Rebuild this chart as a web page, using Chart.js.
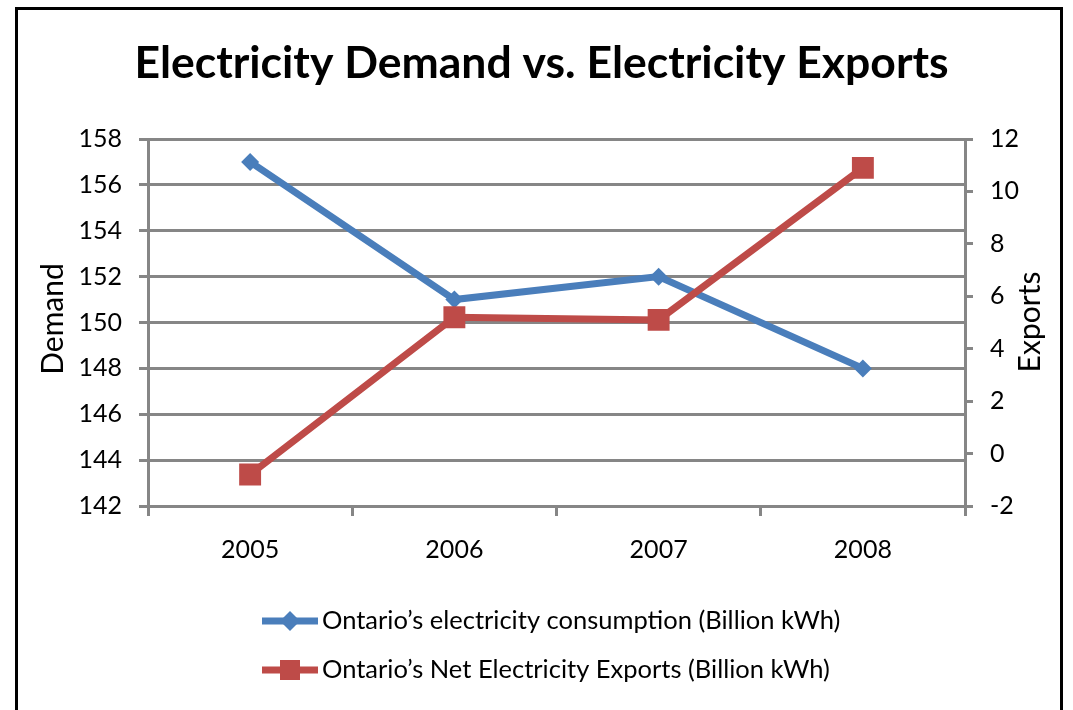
<!DOCTYPE html>
<html><head><meta charset="utf-8">
<script src="https://cdn.jsdelivr.net/npm/chart.js@4"></script>
<style>html,body{margin:0;padding:0;background:#fff;}#wrap{width:1073px;height:710px;}</style>
</head><body><div id="wrap"><canvas id="c" width="1073" height="710"></canvas></div>
<script>
const years = ['2005', '2006', '2007', '2008'];
const consumption = [157, 151, 152, 148];
const netExports = [-0.8, 5.2, 5.1, 10.9];
const demandAxis = [142, 158, 2];
const exportsAxis = [-2, 12, 2];
const seriesNames = ['Ontario\u2019s electricity consumption (Billion kWh)', 'Ontario\u2019s Net Electricity Exports (Billion kWh)'];
const chartTitle = 'Electricity Demand vs. Electricity Exports';
const axisTitles = ['Demand', 'Exports'];

const FONT = 'Lato';
const GRID = '#868686';
const BLUE = '#4A7EBB';
const RED = '#BE4B48';

const decor = {
  id: 'decor',
  beforeDraw(chart) {
    const ctx = chart.ctx;
    ctx.save();
    ctx.fillStyle = '#fff';
    ctx.fillRect(0, 0, chart.width, chart.height);
    ctx.restore();
  },
  afterDraw(chart) {
    const ctx = chart.ctx;
    ctx.save();
    // outer border
    ctx.strokeStyle = '#000';
    ctx.lineWidth = 3;
    ctx.strokeRect(16.5, 8.5, 1045, 800);
    // axis titles (both read bottom-to-top)
    ctx.fillStyle = '#000';
    ctx.font = '30px ' + FONT;
    ctx.textAlign = 'center';
    ctx.textBaseline = 'middle';
    [[53, 319, axisTitles[0]], [1030, 322, axisTitles[1]]].forEach(([x, y, t]) => {
      ctx.save();
      ctx.translate(x, y);
      ctx.rotate(-Math.PI / 2);
      ctx.fillText(t, 0, 0);
      ctx.restore();
    });
    // legend
    const rows = [621, 670];
    chart.data.datasets.forEach((ds, i) => {
      const y = rows[i];
      ctx.strokeStyle = ds.borderColor;
      ctx.lineWidth = 7;
      ctx.beginPath();
      ctx.moveTo(262, y);
      ctx.lineTo(318, y);
      ctx.stroke();
      ctx.fillStyle = ds.backgroundColor;
      ctx.beginPath();
      if (ds.pointStyle === 'rectRot') {
        const r = 10;
        ctx.moveTo(290 - r, y); ctx.lineTo(290, y - r); ctx.lineTo(290 + r, y); ctx.lineTo(290, y + r);
        ctx.closePath();
      } else {
        ctx.rect(290 - 10, y - 10, 20, 20);
      }
      ctx.fill();
      ctx.fillStyle = '#000';
      ctx.font = '25.5px ' + FONT;
      ctx.textAlign = 'left';
      ctx.textBaseline = 'middle';
      ctx.fillText(ds.label, 322, y);
    });
    ctx.restore();
  }
};

new Chart(document.getElementById('c'), {
  type: 'line',
  data: {
    labels: years,
    datasets: [
      { label: seriesNames[0], data: consumption, yAxisID: 'y', order: 1,
        borderColor: BLUE, backgroundColor: BLUE, borderWidth: 7,
        pointStyle: 'rectRot', pointRadius: 9, pointHoverRadius: 9, pointBorderWidth: 0, tension: 0 },
      { label: seriesNames[1], data: netExports, yAxisID: 'y1', order: 0,
        borderColor: RED, backgroundColor: RED, borderWidth: 7,
        pointStyle: 'rect', pointRadius: 15.5, pointHoverRadius: 15.5, pointBorderWidth: 0, tension: 0 }
    ]
  },
  options: {
    responsive: false,
    animation: false,
    devicePixelRatio: 1,
    layout: { padding: { left: 10, right: 0, top: 0, bottom: 0 } },
    plugins: {
      legend: { display: false },
      tooltip: { enabled: false },
      title: {
        display: true, text: chartTitle, color: '#000',
        font: { family: FONT, size: 44.5, weight: 'bold', lineHeight: 1.2 },
        padding: { top: 37, bottom: 48.6 }
      }
    },
    scales: {
      x: {
        type: 'category', offset: true,
        grid: { display: true, drawOnChartArea: false, drawTicks: true, tickLength: 10, color: GRID, lineWidth: 3, offset: true },
        border: { display: true, color: GRID, width: 3 },
        ticks: { color: '#000', font: { family: FONT, size: 25 }, padding: 19 },
        afterFit(s) { s.height = 204; }
      },
      y: {
        position: 'left', min: demandAxis[0], max: demandAxis[1],
        ticks: { stepSize: demandAxis[2], color: '#000', font: { family: FONT, size: 25 }, padding: 17 },
        grid: { color: GRID, lineWidth: 3, tickLength: 9, drawTicks: true },
        border: { display: true, color: GRID, width: 3 },
        afterFit(s) { s.width = 138; }
      },
      y1: {
        position: 'right', min: exportsAxis[0], max: exportsAxis[1],
        ticks: { stepSize: exportsAxis[2], color: '#000', font: { family: FONT, size: 25 }, padding: 17 },
        grid: { drawOnChartArea: false, color: GRID, lineWidth: 3, tickLength: 8, drawTicks: true },
        border: { display: true, color: GRID, width: 3 },
        afterFit(s) { s.width = 108; }
      }
    }
  },
  plugins: [decor]
});
</script>
</body></html>
